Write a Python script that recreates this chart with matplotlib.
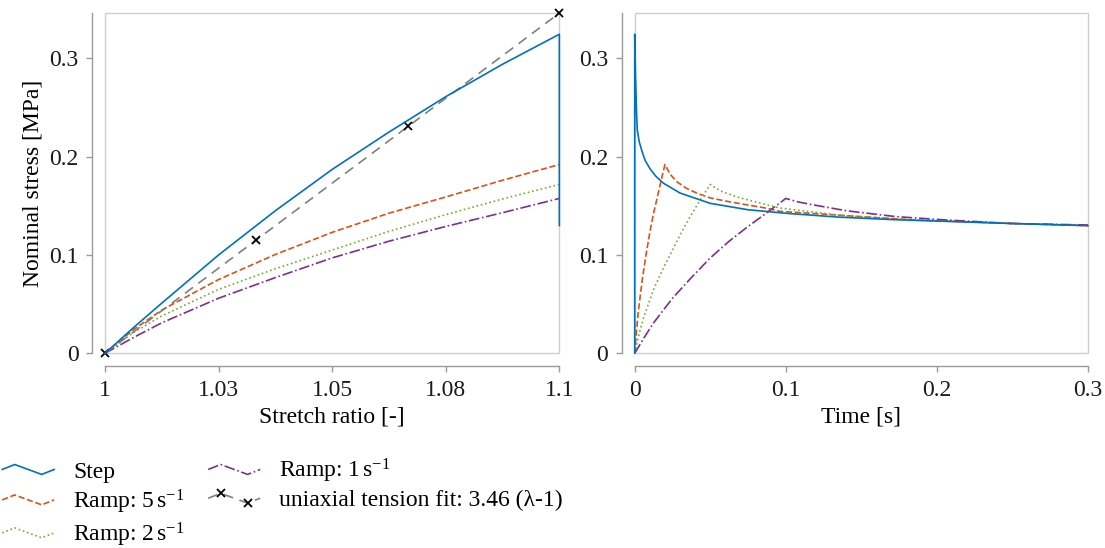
import numpy as np
import matplotlib
matplotlib.use("Agg")
import matplotlib.pyplot as plt
from matplotlib.lines import Line2D
from matplotlib.legend_handler import HandlerLine2D
from matplotlib.patches import Rectangle

plt.rcParams['font.family'] = ['Liberation Serif', 'DejaVu Serif']
plt.rcParams['mathtext.fontset'] = 'custom'
plt.rcParams['mathtext.rm'] = 'Liberation Serif'
plt.rcParams['mathtext.it'] = 'Liberation Serif:italic'
plt.rcParams['font.size'] = 17

# --- data ---
stretch = [1.0, 1.00625, 1.0125, 1.025, 1.0375, 1.05, 1.0625, 1.075, 1.0875, 1.1]
step_stretch = stretch + [1.1]
step_stress = [0, 0.026, 0.051, 0.100, 0.145, 0.187, 0.225, 0.261, 0.294, 0.3245, 0.130]
ramp5_stress = [0, 0.024, 0.044, 0.075, 0.1005, 0.123, 0.1425, 0.159, 0.176, 0.192]
ramp2_stress = [0, 0.021, 0.038, 0.065, 0.086, 0.105, 0.124, 0.141, 0.157, 0.1717]
ramp1_stress = [0, 0.016, 0.031, 0.056, 0.077, 0.097, 0.114, 0.129, 0.143, 0.1575]
fit_stretch = [1.0, 1.0333, 1.0667, 1.1]
fit_stress = [0, 0.1153, 0.2307, 0.346]

step_time = [0, 0, 0.0005, 0.0012, 0.0017, 0.0030, 0.0046, 0.0068, 0.010, 0.014, 0.019,
             0.030, 0.050, 0.075, 0.100, 0.135, 0.170, 0.200, 0.250, 0.300]
step_relax = [0, 0.3245, 0.285, 0.245, 0.227, 0.215, 0.2066, 0.1965, 0.188, 0.180, 0.173,
              0.163, 0.1525, 0.146, 0.1424, 0.1385, 0.136, 0.1345, 0.132, 0.1298]

ramp5_time = [0, 0.00125, 0.0025, 0.005, 0.0075, 0.010, 0.0125, 0.015, 0.0175, 0.020,
              0.0235, 0.0278, 0.034, 0.041, 0.050, 0.063, 0.0875, 0.096, 0.140, 0.185, 0.250, 0.300]
ramp5_relax = [0, 0.024, 0.044, 0.075, 0.1005, 0.123, 0.1425, 0.159, 0.176, 0.192,
               0.182, 0.1746, 0.168, 0.163, 0.158, 0.154, 0.1475, 0.1444, 0.140, 0.1356, 0.132, 0.1298]

ramp2_time = [0, 0.003125, 0.00625, 0.0125, 0.01875, 0.025, 0.03125, 0.0375, 0.04375, 0.050,
              0.057, 0.0676, 0.0875, 0.096, 0.140, 0.185, 0.250, 0.300]
ramp2_relax = [0, 0.021, 0.038, 0.065, 0.086, 0.105, 0.124, 0.141, 0.157, 0.1717,
               0.165, 0.159, 0.151, 0.1478, 0.1397, 0.1356, 0.132, 0.130]

ramp1_time = [0, 0.00625, 0.0125, 0.025, 0.0375, 0.050, 0.0625, 0.075, 0.0875, 0.100,
              0.108, 0.118, 0.140, 0.173, 0.206, 0.250, 0.300]
ramp1_relax = [0, 0.016, 0.031, 0.056, 0.077, 0.097, 0.114, 0.129, 0.143, 0.1575,
               0.154, 0.151, 0.145, 0.139, 0.1356, 0.132, 0.1305]

stretch_ticks = [1.0, 1.025, 1.05, 1.075, 1.1]
stretch_labels = ['1', '1.03', '1.05', '1.08', '1.1']
time_ticks = [0, 0.1, 0.2, 0.3]
time_labels = ['0', '0.1', '0.2', '0.3']
stress_ticks = [0, 0.1, 0.2, 0.3]
stress_labels = ['0', '0.1', '0.2', '0.3']

labels = ['Step', r'Ramp: 5$\,\mathrm{s}^{-1}$', r'Ramp: 2$\,\mathrm{s}^{-1}$',
          r'Ramp: 1$\,\mathrm{s}^{-1}$', 'uniaxial tension fit: 3.46 (λ-1)']

c_step = '#0072BD'
c_r5 = '#D95319'
c_r2 = '#77AC30'
c_r1 = '#7E2F8E'
c_fit = '#808080'
lw = 1.2


class ZigzagHandler(HandlerLine2D):
    # legend handle drawn as a little wave, markers on the two inner points
    def create_artists(self, legend, orig_handle, xdescent, ydescent,
                       width, height, fontsize, trans):
        xs = np.array([0.0, 0.24, 0.76, 1.0]) * width - xdescent
        ys = np.array([0.5, 0.8, 0.2, 0.5]) * height - ydescent
        line = Line2D(xs, ys)
        self.update_prop(line, orig_handle, legend)
        line.set_marker('None')
        marks = Line2D(xs[1:3], ys[1:3])
        self.update_prop(marks, orig_handle, legend)
        marks.set_linestyle('None')
        line.set_transform(trans)
        marks.set_transform(trans)
        return [line, marks]


def style_axes(ax):
    for side in ['top', 'right']:
        ax.spines[side].set_visible(False)
    for side in ['left', 'bottom']:
        ax.spines[side].set_position(('outward', 9))
        ax.spines[side].set_color('#9a9a9a')
        ax.spines[side].set_linewidth(1.0)
    ax.add_patch(Rectangle((0, 0), 1, 1, transform=ax.transAxes, fill=False,
                           edgecolor='#cfcfcf', linewidth=1.0, clip_on=False, zorder=0.5))
    ax.tick_params(direction='out', length=4, width=1.0, color='#9a9a9a',
                   labelcolor='#1a1a1a', pad=6)


fig = plt.figure(figsize=(11.05, 5.48), dpi=100)
ax1 = fig.add_axes([0.095, 0.3553, 0.4112, 0.6208])
ax2 = fig.add_axes([0.5744, 0.3553, 0.4102, 0.6208])

h_step, = ax1.plot(step_stretch, step_stress, color=c_step, lw=lw, clip_on=False, zorder=3)
h_r5, = ax1.plot(stretch, ramp5_stress, color=c_r5, lw=lw, linestyle='--')
h_r2, = ax1.plot(stretch, ramp2_stress, color=c_r2, lw=lw, linestyle=':')
h_r1, = ax1.plot(stretch, ramp1_stress, color=c_r1, lw=lw, linestyle='-.')
h_fit, = ax1.plot(fit_stretch, fit_stress, color=c_fit, lw=lw, dashes=(6, 4),
                  marker='x', markersize=6, markeredgecolor='black',
                  markeredgewidth=1.3, clip_on=False)

ax2.plot(step_time, step_relax, color=c_step, lw=lw, clip_on=False, zorder=3)
ax2.plot(ramp5_time, ramp5_relax, color=c_r5, lw=lw, linestyle='--')
ax2.plot(ramp2_time, ramp2_relax, color=c_r2, lw=lw, linestyle=':')
ax2.plot(ramp1_time, ramp1_relax, color=c_r1, lw=lw, linestyle='-.')

ax1.set_xlim(1.0, 1.1)
ax1.set_ylim(0, 0.346)
ax1.set_xticks(stretch_ticks)
ax1.set_xticklabels(stretch_labels)
ax1.set_yticks(stress_ticks)
ax1.set_yticklabels(stress_labels)
ax1.set_xlabel('Stretch ratio [-]', labelpad=4)
ax1.set_ylabel('Nominal stress [MPa]')

ax2.set_xlim(0, 0.3)
ax2.set_ylim(0, 0.346)
ax2.set_xticks(time_ticks)
ax2.set_xticklabels(time_labels)
ax2.set_yticks(stress_ticks)
ax2.set_yticklabels(stress_labels)
ax2.set_xlabel('Time [s]', labelpad=4)

style_axes(ax1)
style_axes(ax2)

handles = [h_step, h_r5, h_r2, h_r1, h_fit]
fig.legend(handles, labels, ncol=2, loc='upper left', bbox_to_anchor=(0.002, 0.166),
           frameon=False, handlelength=2.2, handletextpad=0.8, columnspacing=1.0,
           labelspacing=0.2, borderaxespad=0, borderpad=0,
           handler_map={Line2D: ZigzagHandler()})

fig.savefig('out.png', dpi=100)
